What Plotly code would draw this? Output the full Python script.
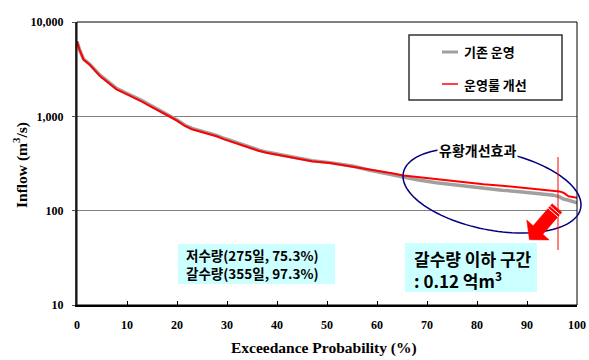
import numpy as np
import plotly.graph_objects as go

# Flow duration curves: exceedance probability (%) vs. inflow (m3/s)
prob = [0, 0.5, 1.3, 2.6, 4.6, 5.9, 7.9, 9.6, 11.3, 13.0, 14.6, 16.0, 17.3, 18.6,
        20.0, 21.6, 23.0, 24.6, 26.0, 27.9, 29.5, 31.3, 33.0, 34.6, 36.3, 37.9,
        39.6, 41.3, 43.0, 44.5, 47.0, 50.6, 53.0, 55.3, 58.6, 60.6, 63.0, 65.3,
        68.0, 71.9, 75.0, 78.0, 81.3, 85.0, 88.6, 92.0, 95.3, 96.5, 97.3, 98.3, 100]

flow_base = [6200, 5100, 4050, 3550, 2730, 2390, 1980, 1790, 1630, 1470, 1320, 1210,
             1105, 1010, 915, 805, 745, 705, 668, 628, 582, 540, 500, 467, 440, 418,
             401, 386, 370, 355, 339, 323, 307, 296, 268, 255, 240, 226,
             213, 198, 189, 180, 172, 165, 159, 153, 146, 140, 133, 129, 121]

flow_improved = [6200, 5100, 4000, 3500, 2670, 2330, 1930, 1750, 1590, 1430, 1285, 1180,
                 1075, 990, 900, 790, 730, 690, 655, 615, 570, 530, 490, 458, 432, 411,
                 395, 380, 365, 350, 335, 320, 305, 295, 272, 262, 249, 236,
                 227, 216, 208, 200, 191, 184, 177, 170, 164, 160, 155, 142, 137]

y_tickvals = [10, 100, 1000, 10000]
y_ticktext = ["10", "100", "1,000", "10,000"]
x_tickvals = list(range(0, 101, 10))

legend_names = ["기존 운영", "운영룰 개선"]
note_left = "저수량(275일, 75.3%)<br>갈수량(355일, 97.3%)"
note_right = "갈수량 이하 구간<br>: 0.12 억m<sup>3</sup>"
effect_label = "유황개선효과"
drought_prob = 96.2

W, H = 589, 360
L, R, T, B = 77, 12, 22, 55
PW, PH = W - L - R, H - T - B

def px(x):
    return (x - L) / PW

def py(y):
    return (H - B - y) / PH

KR = "Noto Sans CJK KR"
SERIF = "Liberation Serif"

fig = go.Figure()
fig.add_trace(go.Scatter(x=prob, y=flow_base, mode="lines", name=legend_names[0],
                         line=dict(color="#A0A0A0", width=3.5), showlegend=False))
fig.add_trace(go.Scatter(x=prob, y=flow_improved, mode="lines", name=legend_names[1],
                         line=dict(color="#FF0000", width=2), showlegend=False))

shapes = []
# plot frame (thin top/right)
shapes.append(dict(type="rect", xref="paper", yref="paper", x0=0, x1=1, y0=0, y1=1,
                   line=dict(color="#000000", width=1), layer="above"))

# legend box
shapes.append(dict(type="rect", xref="paper", yref="paper",
                   x0=px(409), x1=px(562), y0=py(100), y1=py(35),
                   line=dict(color="#333333", width=1.5), fillcolor="white"))
shapes.append(dict(type="line", xref="paper", yref="paper",
                   x0=px(442), x1=px(458), y0=py(52), y1=py(52),
                   line=dict(color="#A0A0A0", width=3)))
shapes.append(dict(type="line", xref="paper", yref="paper",
                   x0=px(442), x1=px(458), y0=py(84), y1=py(84),
                   line=dict(color="#FF0000", width=1.5)))

# note boxes
shapes.append(dict(type="rect", xref="paper", yref="paper",
                   x0=px(178), x1=px(335), y0=py(284), y1=py(244),
                   line=dict(width=0), fillcolor="#CCFFFF"))
shapes.append(dict(type="rect", xref="paper", yref="paper",
                   x0=px(405), x1=px(537), y0=py(292), y1=py(243),
                   line=dict(width=0), fillcolor="#CCFFFF"))

# tilted ellipse around the low-flow region
cx, cy, a, b, th = 492, 190.5, 90.4, 39.4, np.deg2rad(11.3)
t = np.linspace(0, 2 * np.pi, 121)
ex = cx + a * np.cos(t) * np.cos(th) - b * np.sin(t) * np.sin(th)
ey = cy + a * np.cos(t) * np.sin(th) + b * np.sin(t) * np.cos(th)
path = "M " + " L ".join(f"{px(x):.5f},{py(y):.5f}" for x, y in zip(ex, ey)) + " Z"
shapes.append(dict(type="path", xref="paper", yref="paper", path=path,
                   line=dict(color="#000080", width=1.5)))

# drought-flow marker line
shapes.append(dict(type="line", xref="x", yref="paper", x0=drought_prob, x1=drought_prob,
                   y0=py(250), y1=py(157), line=dict(color="#FF0000", width=1)))

# block arrow pointing down-left
d = np.array([-0.66, 0.75]); d /= np.linalg.norm(d)
n = np.array([0.75, 0.66]); n /= np.linalg.norm(n)
Tc = np.array([557.0, 208.0]); Bc = np.array([538.0, 230.0]); tip = Bc + 13 * d
pts = [Tc + 6.5 * n, Bc + 6.5 * n, Bc + 15 * n, tip, Bc - 15 * n, Bc - 6.5 * n, Tc - 6.5 * n]
apath = "M " + " L ".join(f"{px(p[0]):.5f},{py(p[1]):.5f}" for p in pts) + " Z"
shapes.append(dict(type="path", xref="paper", yref="paper", path=apath,
                   fillcolor="#FF0000", line=dict(color="#FF0000", width=0.5)))
for k in (3.0, 6.0):
    c = Tc + k * (Bc - Tc) / np.linalg.norm(Bc - Tc)
    p0, p1 = c + 6.5 * n, c - 6.5 * n
    shapes.append(dict(type="line", xref="paper", yref="paper",
                       x0=px(p0[0]), y0=py(p0[1]), x1=px(p1[0]), y1=py(p1[1]),
                       line=dict(color="white", width=1)))

annotations = []
for name, yy in zip(legend_names, (52, 84)):
    annotations.append(dict(xref="paper", yref="paper", x=px(462), y=py(yy),
                            xanchor="left", yanchor="middle", showarrow=False, text=name,
                            font=dict(family=KR, size=13, color="black", weight="bold")))
annotations.append(dict(xref="paper", yref="paper", x=px(184), y=py(264),
                        xanchor="left", yanchor="middle", align="left", showarrow=False,
                        text=note_left,
                        font=dict(family=KR, size=13.5, color="black", weight="bold")))
annotations.append(dict(xref="paper", yref="paper", x=px(412), y=py(269),
                        xanchor="left", yanchor="middle", align="left", showarrow=False,
                        text=note_right,
                        font=dict(family=KR, size=17, color="black", weight="bold")))
annotations.append(dict(xref="paper", yref="paper", x=px(477), y=py(150),
                        xanchor="center", yanchor="middle", showarrow=False, text=effect_label,
                        bgcolor="white", borderpad=1,
                        font=dict(family=KR, size=14, color="black", weight="bold")))
annotations.append(dict(xref="paper", yref="paper", x=px(20), y=py(165),
                        xanchor="center", yanchor="middle", showarrow=False, textangle=-90,
                        text="Inflow (m<sup>3</sup>/s)",
                        font=dict(family=SERIF, size=15.5, color="black", weight="bold")))
annotations.append(dict(xref="paper", yref="paper", x=px(324), y=py(348),
                        xanchor="center", yanchor="middle", showarrow=False,
                        text="Exceedance Probability (%)",
                        font=dict(family=SERIF, size=15.5, color="black", weight="bold")))

fig.update_layout(
    width=W, height=H, margin=dict(l=L, r=R, t=T, b=B),
    paper_bgcolor="white", plot_bgcolor="white",
    shapes=shapes, annotations=annotations, showlegend=False,
    xaxis=dict(range=[0, 100], tickvals=x_tickvals, ticks="inside", ticklen=4,
               tickcolor="black", showgrid=False, zeroline=False, automargin=False,
               showline=True, linecolor="black", linewidth=2,
               ticklabelstandoff=8,
               tickfont=dict(family=SERIF, size=12, color="black", weight="bold")),
    yaxis=dict(type="log", range=[1, 4], tickvals=y_tickvals, ticktext=y_ticktext,
               ticks="outside", ticklen=3, tickcolor="#555555", automargin=False,
               showgrid=True, gridcolor="#808080", gridwidth=1, zeroline=False,
               showline=True, linecolor="#333333", linewidth=2,
               ticklabelstandoff=6,
               tickfont=dict(family=SERIF, size=12, color="black", weight="bold")),
)

fig.write_html("out.html")
